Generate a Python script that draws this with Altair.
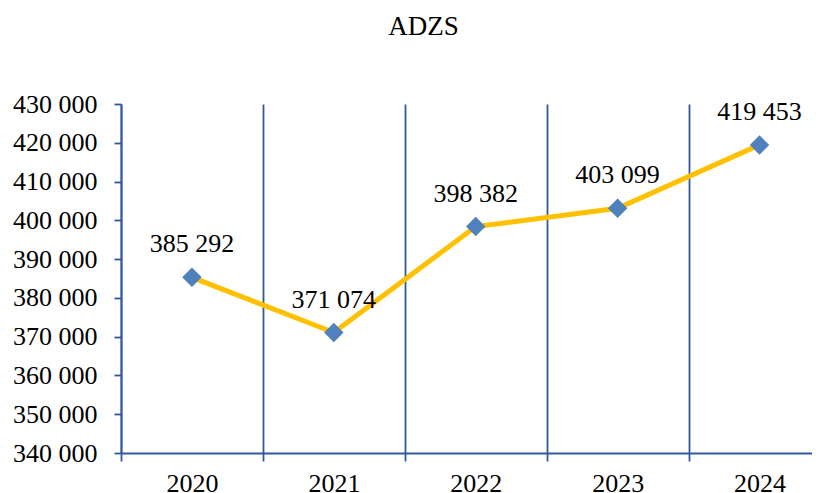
import altair as alt
import pandas as pd

years = [2020, 2021, 2022, 2023, 2024]
values = [385292, 371074, 398382, 403099, 419453]
y_ticks = [340000, 350000, 360000, 370000, 380000, 390000, 400000, 410000, 420000, 430000]
x_bounds = [2019.5, 2020.5, 2021.5, 2022.5, 2023.5]

df = pd.DataFrame({"year": years, "value": values})

FONT = "Liberation Serif"
AXIS_COLOR = "#3157A0"

x_scale = alt.Scale(domain=[2019.5, 2024.37], nice=False, zero=False)
y_scale = alt.Scale(domain=[340000, 430000], nice=False, zero=False)

x_enc = alt.X(
    "year:Q",
    scale=x_scale,
    axis=alt.Axis(
        title=None,
        values=x_bounds,
        labelExpr="toString(datum.value + 0.5)",
        labelOffset=71,
        labelFlush=False,
        labelOverlap=False,
        labelFont=FONT,
        labelFontSize=26,
        labelColor="black",
        labelPadding=9,
        tickSize=8,
        tickColor=AXIS_COLOR,
        tickWidth=1.8,
        domainColor=AXIS_COLOR,
        domainWidth=1.8,
        grid=True,
        gridColor=AXIS_COLOR,
        gridWidth=1.8,
        gridOpacity=1,
    ),
)
y_enc = alt.Y(
    "value:Q",
    scale=y_scale,
    axis=alt.Axis(
        title=None,
        values=y_ticks,
        labelExpr="replace(format(datum.value, ',d'), ',', ' ')",
        labelFont=FONT,
        labelFontSize=26,
        labelColor="black",
        labelPadding=17,
        labelFlush=False,
        labelOverlap=False,
        tickSize=7,
        tickColor=AXIS_COLOR,
        tickWidth=1.8,
        domainColor=AXIS_COLOR,
        domainWidth=1.8,
        grid=False,
    ),
)

base = alt.Chart(df).encode(x=x_enc, y=y_enc)

line = base.mark_line(color="#FFC000", strokeWidth=5)
points = base.mark_point(shape="diamond", filled=True, color="#4F81BD", size=380, opacity=1)
labels = base.transform_calculate(
    lab="replace(format(datum.value, ',d'), ',', ' ')"
).mark_text(
    font=FONT, fontSize=26, color="black", baseline="alphabetic", dy=-25
).encode(text="lab:N")

chart = (
    alt.layer(line, points, labels)
    .properties(
        width=691,
        height=349,
        autosize=alt.AutoSizeParams(type="none"),
        padding={"left": 113, "top": 96, "right": 0, "bottom": 40},
        title=alt.TitleParams(
            text="ADZS",
            font=FONT,
            fontSize=27,
            fontWeight="normal",
            color="black",
            anchor="middle",
            orient="top",
            offset=50,
            dx=-43,
        ),
    )
    .configure_view(stroke=None)
)

chart.save("out.html", embed_options={"renderer": "svg", "actions": False})
